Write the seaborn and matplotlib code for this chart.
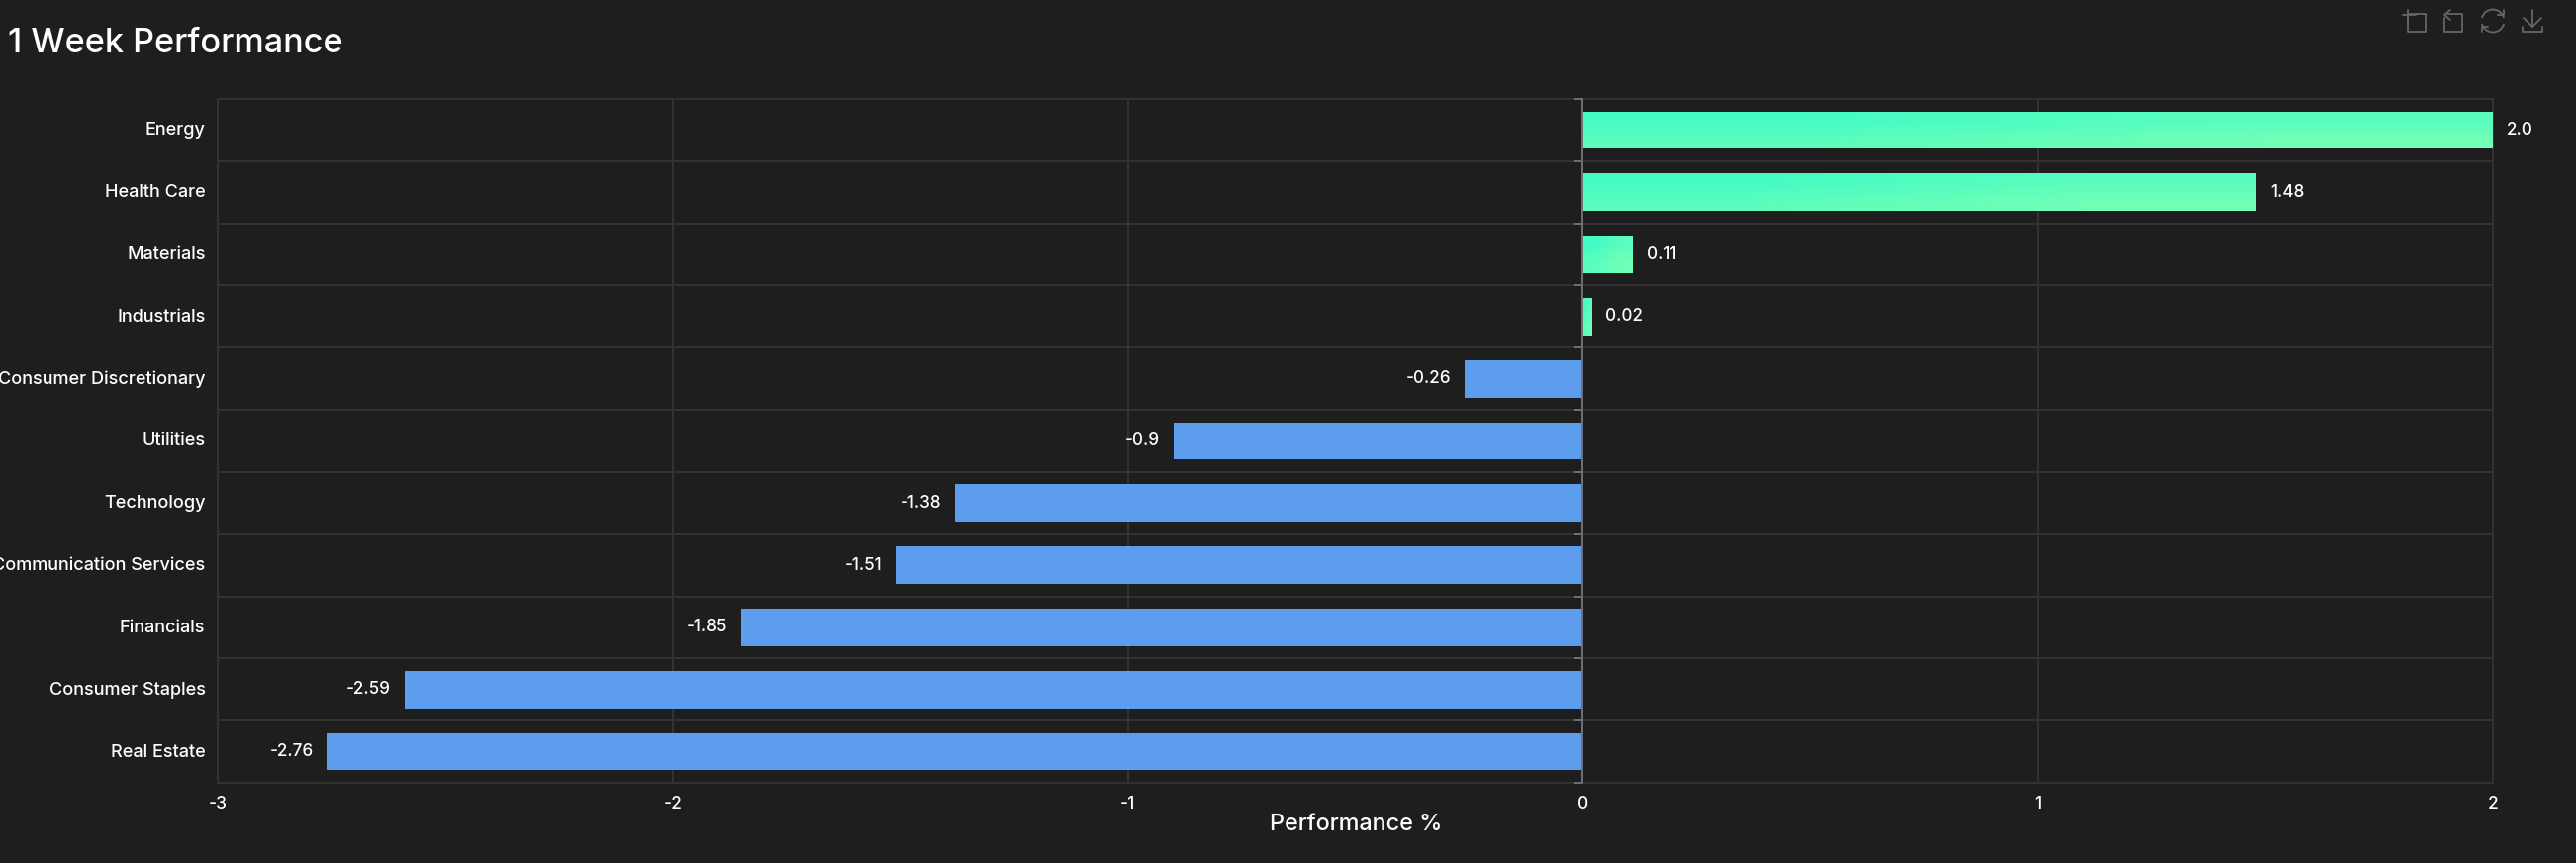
import matplotlib
matplotlib.use("Agg")
import matplotlib.pyplot as plt
from matplotlib.colors import LinearSegmentedColormap
from matplotlib.lines import Line2D
from matplotlib.patches import Arc
from matplotlib.transforms import IdentityTransform, ScaledTranslation
import numpy as np
import pandas as pd
import seaborn as sns

sectors = ["Energy", "Health Care", "Materials", "Industrials", "Consumer Discretionary",
           "Utilities", "Technology", "Communication Services", "Financials",
           "Consumer Staples", "Real Estate"]
performance = [2.0, 1.48, 0.11, 0.02, -0.26, -0.9, -1.38, -1.51, -1.85, -2.59, -2.76]
x_ticks = [-3, -2, -1, 0, 1, 2]

BG = "#1e1e1e"
GRID = "#333333"
AXIS = "#6e7079"
BLUE = "#5c9ded"
GREEN_START = "#45fbc4"
GREEN_END = "#70ffb7"
FONT = "Inter"

W, H = 2603, 872

sns.set_theme(style="dark")
plt.rcParams["font.family"] = [FONT, "DejaVu Sans"]
plt.rcParams["font.weight"] = 500

df = pd.DataFrame({"sector": sectors, "performance": performance})
df["direction"] = np.where(df["performance"] >= 0, "up", "down")

fig = plt.figure(figsize=(W / 100, H / 100), dpi=100, facecolor=BG)
ax = fig.add_axes([220 / W, 1 - 791 / H, 2299 / W, 691 / H], facecolor=BG)

sns.barplot(data=df, y="sector", x="performance", hue="direction", order=sectors,
            palette={"up": GREEN_START, "down": BLUE}, dodge=False, width=0.6,
            legend=False, ax=ax, zorder=3, linewidth=0, saturation=1)

ax.set_xlim(-3, 2)
ax.set_ylim(len(sectors) - 0.5, -0.5)

# grid sits on the band edges, not on the category centres
ax.set_xticks(x_ticks)
ax.set_xticklabels([str(t) for t in x_ticks])
ax.set_yticks(np.arange(len(sectors) + 1) - 0.5, minor=True)
ax.grid(False)
ax.grid(True, which="minor", axis="y", color=GRID, linewidth=1.4, zorder=1)
ax.grid(True, which="major", axis="x", color=GRID, linewidth=1.4, zorder=1)
ax.tick_params(axis="y", which="both", length=0, pad=9, labelsize=13, labelcolor="white")
ax.tick_params(axis="x", length=0, pad=9, labelsize=12.5, labelcolor="white")
ax.set_ylabel("")
ax.set_xlabel("")
# nudge the category labels up a touch
nudge = ScaledTranslation(0, 1.5 / 100, fig.dpi_scale_trans)
for label in ax.get_yticklabels():
    label.set_transform(label.get_transform() + nudge)
for side in ax.spines:
    ax.spines[side].set_color(GRID)
    ax.spines[side].set_linewidth(1.4)

# gradient on the positive bars + value labels
cmap = LinearSegmentedColormap.from_list("up", [GREEN_START, GREEN_END])
for container in ax.containers:
    values = [p.get_x() + p.get_width() if p.get_x() >= 0 else p.get_x() for p in container]
    ax.bar_label(container, labels=[str(round(v, 2)) for v in values], padding=10,
                 color="white", fontsize=12.3, clip_on=False)
    for patch in container:
        if patch.get_x() < 0 or patch.get_width() < 0 or patch.get_facecolor()[2] > 0.9:
            continue
        x0, y0 = patch.get_x(), patch.get_y()
        img = ax.imshow([[0, 0.5], [0.5, 1]], cmap=cmap, vmin=0, vmax=1, aspect="auto",
                        interpolation="bilinear", zorder=3.5,
                        extent=[x0, x0 + patch.get_width(), y0 + patch.get_height(), y0])
        img.set_clip_path(patch)
ax.set_xlim(-3, 2)
ax.set_ylim(len(sectors) - 0.5, -0.5)

# zero line with the band ticks on it
zero_axis = ax.secondary_yaxis(3 / 5)
zero_axis.set_alignment("left")
zero_axis.set_yticks(np.arange(len(sectors) + 1) - 0.5)
zero_axis.set_yticklabels([])
zero_axis.tick_params(axis="y", length=5.8, width=1.4, color=AXIS, direction="out")
for side in zero_axis.spines:
    zero_axis.spines[side].set_color(AXIS)
    zero_axis.spines[side].set_linewidth(1.4)
zero_axis.set_zorder(5)

fig.text(8 / W, 1 - 44 / H, "1 Week Performance", color="white", fontsize=24.6, va="center", ha="left")
fig.text(1370 / W, 1 - 833 / H, "Performance %", color="white", fontsize=16.8, va="center", ha="center")

# toolbox icons, top right (pixel coords, y down)
def icon_line(xs, ys):
    fig.add_artist(Line2D(xs, [H - y for y in ys], color="#666666", linewidth=1.3,
                          transform=IdentityTransform()))

icon_line([2433, 2451, 2451, 2433, 2433], [14, 14, 32, 32, 14])
icon_line([2428, 2441], [15, 15])
icon_line([2433, 2433], [10, 20])
icon_line([2473, 2488, 2488, 2470, 2470], [14, 14, 32, 32, 18])
icon_line([2476, 2470, 2476], [10, 15, 20])
fig.add_artist(Arc((2519, H - 21), 23, 23, theta1=15, theta2=165, color="#666666",
                   linewidth=1.3, transform=IdentityTransform()))
fig.add_artist(Arc((2519, H - 21), 23, 23, theta1=195, theta2=345, color="#666666",
                   linewidth=1.3, transform=IdentityTransform()))
icon_line([2524, 2530, 2530], [15, 15, 10])
icon_line([2514, 2508, 2508], [27, 27, 32])
icon_line([2559, 2559], [10, 27])
icon_line([2550, 2559, 2568], [18, 27, 18])
icon_line([2549, 2549, 2569, 2569], [27, 32, 32, 27])

fig.savefig("out.png", dpi=100, facecolor=BG)
